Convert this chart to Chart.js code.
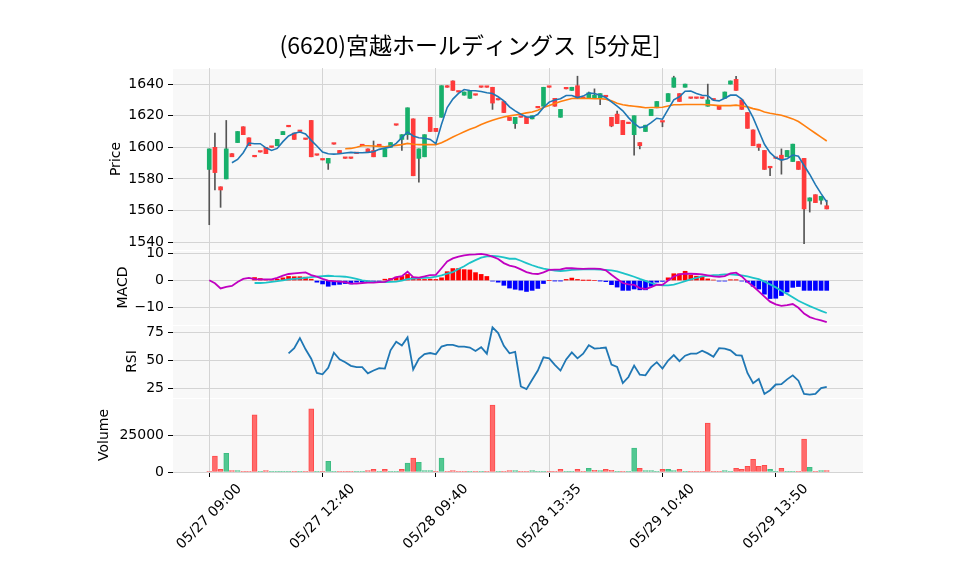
<!DOCTYPE html>
<html>
<head>
<meta charset="utf-8">
<script src="https://cdn.jsdelivr.net/npm/chart.js@4.4.1/dist/chart.umd.min.js"></script>
<style>
  html, body { margin: 0; padding: 0; background: #fff; }
  #wrap { width: 958px; height: 575px; }
</style>
</head>
<body>
<div id="wrap"><canvas id="chart" width="958" height="575"></canvas></div>
<script>
const titleText = '(6620)宮越ホールディングス  [5分足]';
const xTickPos = [0, 20, 40, 60, 80, 100];
const xTickLabels = ['05/27 09:00', '05/27 12:40', '05/28 09:40', '05/28 13:35', '05/29 10:40', '05/29 13:50'];

// 5-minute OHLC, one entry per bar
const opens = [1586,1600,1575,1580,1596,1603,1613,1606,1594,1597,1600,1600,1601,1608,1613,1609,1610,1605,1617,1595,
  1592,1590,1602,1598,1593,1593,1596,1601,1599,1598,1601,1594,1600,1614,1605,1608,1618,1593,1594,1619,
  1612,1619,1639,1642,1635,1633,1631,1633,1638,1638,1638,1630,1629,1619,1615,1619,1619,1618,1625,1626,
  1638,1631,1619,1637,1636,1639,1631,1631,1631,1631,1632,1619,1621,1617,1615,1608,1603,1610,1620,1625,
  1616,1629,1638,1634,1638,1631,1631,1631,1626,1630,1626,1631,1640,1643,1630,1622,1611,1602,1598,1588,
  1593,1595,1594,1591,1591,1593,1566,1570,1566.5,1563];
const highs = [1599,1609,1575,1617,1596,1610,1613,1606,1594,1597,1600,1600,1605,1610,1613,1609,1610,1605,1617,1595,
  1592,1593,1602,1598,1593,1593,1596,1601,1599,1604,1601,1599,1603,1614,1608,1625,1618,1599,1608,1619,
  1612,1639,1639,1642,1635,1635,1636,1633,1638,1638,1638,1630,1629,1619,1619,1619,1619,1620,1625,1638,
  1638,1631,1624,1637,1638,1645,1631,1635,1637,1634,1632,1619,1623,1617,1615,1620,1603,1614,1624,1629,
  1616,1634,1645,1634,1640,1631,1631,1631,1640,1630,1626,1635,1642,1645,1630,1622,1611,1602,1598,1588,
  1593,1599,1598,1602,1591,1593,1568,1570,1569,1566.5];
const lows = [1551,1573,1562,1580,1594,1603,1608,1601,1594,1597,1596,1600,1601,1608,1613,1605,1610,1605,1594,1595,
  1592,1586,1602,1596,1593,1593,1596,1601,1597,1594,1601,1594,1600,1614,1598,1605,1582,1578,1594,1610,
  1610,1619,1638,1636,1635,1633,1631,1633,1638,1638,1624,1630,1622,1617,1612,1619,1615,1618,1625,1626,
  1638,1626,1619,1637,1636,1631,1631,1631,1631,1627,1632,1613,1615,1608,1615,1595,1599,1610,1620,1625,
  1613,1629,1638,1629,1638,1631,1631,1631,1626,1630,1624,1631,1640,1636,1624,1612,1601,1598,1586,1582,
  1593,1583,1594,1591,1586,1539,1559,1565,1564,1561];
const closes = [1599,1584,1573,1599,1594,1610,1608,1601,1594,1597,1596,1600,1605,1610,1613,1605,1610,1605,1594,1595,
  1592,1593,1602,1596,1593,1593,1596,1601,1597,1594,1601,1599,1603,1614,1608,1625,1582,1599,1608,1610,
  1610,1639,1638,1636,1635,1635,1636,1633,1638,1638,1628,1630,1622,1617,1619,1619,1615,1620,1625,1638,
  1638,1626,1624,1637,1638,1631,1631,1634.5,1633,1634,1632,1613.5,1615,1608,1615,1620,1601,1614,1624,1629,
  1616,1634,1644,1629,1640,1631,1631,1631,1630,1630,1624,1635,1642,1636,1624,1612,1601,1600,1586,1587,
  1593,1592,1598,1602,1586,1561,1568,1565,1569,1561];
const volumes = [300,10800,1800,12800,900,900,500,200,39000,200,900,200,200,200,200,200,200,100,43000,200,
  200,7300,200,200,200,200,200,200,900,1800,200,1800,200,200,1800,6000,9400,6600,900,900,
  200,9400,200,900,200,200,200,200,200,200,45600,200,200,900,900,200,200,900,200,200,
  200,200,1800,200,200,1800,200,2500,1100,900,1800,1100,200,200,200,16300,2500,900,900,200,
  1800,1800,900,1800,200,200,200,200,33300,200,200,900,200,2500,1800,3900,8700,3900,4600,1800,
  200,2500,200,200,200,22500,3200,200,900,900];

// moving averages
const ma5 = [null,null,null,null,1590.2,1592.3,1596.6,1602.7,1602.3,1602.3,1599.7,1598,1599.3,1603.6,1607.2,1608.9,1609.7,1608.4,1604.4,1600.8,
  1597,1595.9,1595.7,1595.9,1596.4,1596.8,1596.6,1596.6,1596.8,1597.2,1598.7,1599.5,1600.2,1602.5,1606.1,1609.7,1607.2,1606.1,1605.7,1605,
  1602.3,1614.6,1625.2,1630.5,1634.1,1636.6,1636,1635.8,1635.3,1634.5,1634.1,1632,1629.4,1625.6,1623.1,1620.9,1619.2,1619.1,1620.9,1625.2,
  1628.6,1630,1630.7,1632.8,1632.8,1631.5,1632.4,1634.3,1634.1,1633,1631.5,1628.8,1626,1623.1,1618.8,1615.2,1612.5,1613.1,1615.6,1618.4,
  1617.8,1624,1630,1632,1635.5,1635.6,1634.1,1633,1632.6,1629.8,1629.4,1631.1,1633,1633,1630.5,1625.6,1618.8,1610.3,1601.9,1596.6,
  1593.4,1591.9,1592.8,1595.1,1594.3,1588.5,1582.8,1576.4,1570.7,1565.4];
const ma25 = [null,null,null,null,null,null,null,null,null,null,null,null,null,null,null,null,null,null,null,null,
  null,null,null,null,1599.1,1599.3,1600,1601,1601,1600.8,1600.6,1600.4,1600.8,1601.2,1601.7,1602.5,1601.9,1601.7,1601.7,1601.7,
  1601.7,1602.9,1604.6,1606.5,1608.2,1609.9,1611.4,1612.7,1614.4,1615.8,1617.1,1618.2,1619.2,1619.9,1620.5,1621.1,1621.8,1622.4,1623.5,1625.2,
  1626.4,1627.7,1629,1630,1630.9,1631.1,1630.9,1630.9,1630.7,1630.7,1630.5,1629.4,1627.9,1626.9,1626.4,1626,1625.6,1625,1625.2,1625.2,
  1625.4,1626.2,1626.9,1626.9,1627.1,1627.1,1627.1,1627.1,1626.9,1626.7,1626.4,1626.4,1626.4,1626.7,1626.2,1625.6,1624.5,1623.7,1622.4,1621.6,
  1620.9,1620.3,1619.2,1618,1616.3,1613.9,1611.4,1608.9,1606.5,1604];

// MACD panel
const macdLine = [0.1,-1,-2.9,-2.3,-2,-0.5,0.6,1,0.5,0.4,0.4,0.4,1,1.8,2.4,2.6,2.8,3,2,1.4,
  0.6,0,-0.25,-0.4,-0.6,-1.1,-1.1,-0.9,-0.75,-0.75,-0.6,-0.5,0.4,1.25,1.6,3.25,1.25,1.1,1.5,2,
  2.1,4.5,7,8.1,8.75,9.25,9.5,9.6,9.75,9.4,8.75,7.9,6.4,5.5,5,4.1,3.1,2.5,2.4,3,
  3.9,4,4.1,4.5,4.5,4.4,4.25,4.4,4.4,4.25,3.75,2.1,0.6,-0.9,-1.4,-1.6,-2.75,-3.1,-2.4,-1.5,
  -1.6,0,1.5,2.25,2.5,2.5,2.4,2.25,1.9,1.5,1.4,1.6,2.6,2.9,1.5,-0.5,-2.1,-4,-5.9,-7.75,
  -8.75,-9.25,-9,-8.6,-10,-12.1,-13.4,-14.1,-14.6,-15.25];
const signalLine = [null,null,null,null,null,null,null,null,-0.9,-0.9,-0.75,-0.5,-0.25,0.1,0.4,0.6,0.75,1,1.25,1.4,
  1.6,1.75,1.6,1.5,1.4,1.1,0.6,0.1,-0.25,-0.5,-0.6,-0.6,-0.5,-0.4,0,0.5,0.75,0.9,1,1.1,
  1.4,1.9,2.5,3.1,4.25,5.25,6.5,7.5,8.4,8.9,9,8.9,8.5,8,8,7.25,6.4,5.6,4.9,4.4,
  4,3.6,3.5,3.6,3.9,4,4.1,4.1,4.1,4,3.9,3.75,3.4,2.75,2.1,1.4,0.6,-0.1,-0.9,-1.5,
  -1.75,-1.75,-1.5,-0.9,-0.25,0.4,1,1.5,1.75,2,2.1,2.25,2.25,2.1,1.9,1.5,1,0.5,-0.4,-1.4,
  -2.5,-3.75,-4.9,-6.1,-7.4,-8.4,-9.4,-10.25,-11.1,-11.9];
const macdHist = [null,null,null,null,null,null,null,null,1.1,0.75,0.2,0.3,0.5,1,1.5,1.4,1.4,1.25,0.5,-0.6,
  -1.25,-2.1,-1.6,-1.4,-1.1,-1.25,-0.6,-0.5,-0.5,-0.5,-0.4,0.5,0.75,1.25,1.5,2.25,1.25,0.4,0.4,0.5,
  0.4,1,3.25,4.4,4.4,4,3.9,2.9,2.25,1.5,-0.2,-0.6,-1.75,-2.75,-3.2,-3.5,-4,-3.6,-2.9,-1.1,
  0,-0.1,-0.1,0.4,0.9,0.4,0.05,0.05,0,-0.1,-0.4,-1.5,-2.4,-3.6,-3.6,-3.1,-3.4,-3.4,-2.1,-0.6,
  -0.3,1,2.5,2.5,3.4,2,1.6,1.4,0.6,0.2,-0.2,-0.2,0.3,0.3,-0.2,-0.6,-2.1,-3.1,-5,-6.6,
  -6.5,-5.5,-4.2,-2.5,-2.2,-3.6,-3.6,-3.6,-3.6,-3.6];

// RSI panel
const rsi = [null,null,null,null,null,null,null,null,null,null,null,null,null,null,56.2,60.8,69.8,59.8,51.4,38.6,
  37.4,43.2,56.8,50.8,48.3,45,43.8,43.8,38.3,40.8,42.9,42.6,58.9,66.5,63.2,70.5,41.7,51.4,55.6,56.5,
  55.3,62.3,63.8,63.8,62.3,62.3,61.4,58.3,61.7,55.9,79.5,74.4,62.9,56.2,57.5,26.5,24.1,32.6,40.8,52.6,
  51.7,45.9,40.8,50.8,57.1,51.7,55.9,63.5,60.5,60.8,61.4,46.2,44.1,29.5,35,45.3,37.1,36.5,43.8,48.3,
  42.6,49.8,54.7,49.2,54.1,55.9,55.9,58.6,56.2,53.2,60.8,60.5,58.9,54.7,54.1,38.6,29.5,33.2,19.8,23.2,
  28.3,28.6,32.9,36.5,31.7,19.8,19.2,19.8,25,26.2];

const UP = '#17b06b', DOWN = '#ff3b3b';
const VOL_UP = '#52c892', VOL_DOWN = '#ff6b6b';
const GRID = '#d4d4d4';
const TICK_FONT = { family: 'DejaVu Sans', size: 14 };
const TITLE_FONT = { family: 'DejaVu Sans', size: 14 };

const pts = arr => arr.map((v, i) => ({ x: i, y: v }));
const candleUp = i => closes[i] > opens[i];
const volUp = i => i > 0 && closes[i] > closes[i - 1];

const datasets = [
  {
    type: 'line', label: 'MA5', data: pts(ma5), yAxisID: 'yPrice',
    borderColor: '#1f77b4', borderWidth: 1.6, pointRadius: 0, order: 0
  },
  {
    type: 'line', label: 'MA25', data: pts(ma25), yAxisID: 'yPrice',
    borderColor: '#ff7f0e', borderWidth: 1.6, pointRadius: 0, order: 0
  },
  {
    type: 'bar', label: 'body', yAxisID: 'yPrice', order: 1,
    data: opens.map((o, i) => ({ x: i, y: [o, closes[i]] })),
    backgroundColor: opens.map((o, i) => candleUp(i) ? UP : DOWN),
    barThickness: 4, minBarLength: 1.5
  },
  {
    type: 'bar', label: 'wick', yAxisID: 'yPrice', order: 2,
    data: lows.map((l, i) => ({ x: i, y: [l, highs[i]] })),
    backgroundColor: '#555555', barThickness: 1
  },
  {
    type: 'line', label: 'MACD', data: pts(macdLine), yAxisID: 'yMacd',
    borderColor: '#c000c0', borderWidth: 1.8, pointRadius: 0, order: 0
  },
  {
    type: 'line', label: 'Signal', data: pts(signalLine), yAxisID: 'yMacd',
    borderColor: '#1cc3c8', borderWidth: 1.8, pointRadius: 0, order: 0
  },
  {
    type: 'bar', label: 'Hist', yAxisID: 'yMacd', order: 1,
    data: pts(macdHist),
    backgroundColor: macdHist.map(v => v >= 0 ? '#ff0000' : '#0000ff'),
    barThickness: 4
  },
  {
    type: 'line', label: 'RSI', data: pts(rsi), yAxisID: 'yRsi',
    borderColor: '#1f77b4', borderWidth: 1.8, pointRadius: 0, order: 0
  },
  {
    type: 'bar', label: 'Volume', yAxisID: 'yVol', order: 1,
    data: pts(volumes),
    backgroundColor: volumes.map((v, i) => volUp(i) ? VOL_UP : VOL_DOWN),
    borderColor: volumes.map((v, i) => volUp(i) ? '#3dbd83' : '#ff4a4a'),
    borderWidth: 1, borderSkipped: false, barThickness: 5
  }
];

function yScale(min, max, tickVals, weight, title, titlePad, fmt) {
  return {
    type: 'linear', position: 'left', stack: 'panels', stackWeight: weight,
    min: min, max: max,
    afterBuildTicks: s => { s.ticks = tickVals.map(v => ({ value: v })); },
    afterFit: s => { s.width = 90; },
    ticks: {
      color: '#000', font: TICK_FONT, padding: 4,
      callback: v => fmt ? fmt(v) : String(v)
    },
    grid: { color: GRID, lineWidth: 1, tickColor: '#000', tickLength: 5 },
    border: { display: false },
    title: { display: true, text: title, color: '#000', font: TITLE_FONT, padding: { top: titlePad, bottom: 0 } }
  };
}

// panel backgrounds, centred 45° date labels and the figure title
const panelPlugin = {
  id: 'panels',
  beforeDraw(chart) {
    const { ctx, chartArea } = chart;
    ctx.save();
    ctx.fillStyle = '#f8f8f8';
    ['yPrice', 'yMacd', 'yRsi', 'yVol'].forEach(id => {
      const s = chart.scales[id];
      ctx.fillRect(chartArea.left, s.top + 1, chartArea.right - chartArea.left, s.bottom - s.top - 1);
    });
    ctx.restore();
  },
  afterDraw(chart) {
    const ctx = chart.ctx;
    const xs = chart.scales.x;
    ctx.save();
    ctx.fillStyle = '#000';
    ctx.font = '14px "DejaVu Sans"';
    ctx.textAlign = 'center';
    ctx.textBaseline = 'middle';
    xTickPos.forEach((v, k) => {
      const label = xTickLabels[k];
      const w = ctx.measureText(label).width;
      const half = (w + 16) * Math.SQRT1_2 / 2;
      ctx.save();
      ctx.translate(xs.getPixelForValue(v), xs.top + 9 + half);
      ctx.rotate(-Math.PI / 4);
      ctx.fillText(label, 0, 0);
      ctx.restore();
    });
    ctx.font = '23px "Noto Sans CJK JP"';
    ctx.fillText(titleText, 470, 45);
    ctx.restore();
  }
};

const minus = v => String(v).replace('-', '\u2212');

new Chart(document.getElementById('chart'), {
  type: 'bar',
  data: { datasets: datasets },
  plugins: [panelPlugin],
  options: {
    responsive: false,
    animation: false,
    devicePixelRatio: 1,
    layout: { padding: { left: 83, right: 95, top: 68, bottom: 0 } },
    datasets: { bar: { grouped: false }, line: { spanGaps: false } },
    plugins: { legend: { display: false }, tooltip: { enabled: false }, title: { display: false } },
    scales: {
      x: {
        type: 'linear', min: -6.4, max: 115.4, offset: false, bounds: 'ticks',
        afterBuildTicks: s => { s.ticks = xTickPos.map(v => ({ value: v })); },
        afterFit: s => { s.height = 103; },
        ticks: { display: false },
        grid: { offset: false, color: GRID, lineWidth: 1, tickColor: '#000', tickLength: 5 },
        border: { display: false }
      },
      yVol: yScale(0, 50400, [0, 25000], 74, 'Volume', 13),
      yRsi: yScale(16.2, 81.6, [25, 50, 75], 73, 'RSI', 41),
      yMacd: yScale(-16.3, 11.2, [-10, 0, 10], 75, 'MACD', 32, minus),
      yPrice: yScale(1535, 1650.2, [1540, 1560, 1580, 1600, 1620, 1640], 182, 'Price', 25)
    }
  }
});
</script>
</body>
</html>
